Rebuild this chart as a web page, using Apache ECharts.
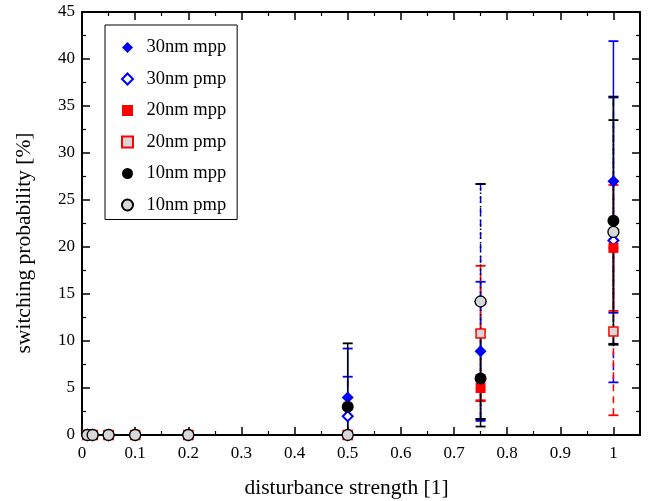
<!DOCTYPE html>
<html><head><meta charset="utf-8">
<script src="https://cdn.jsdelivr.net/npm/echarts@6/dist/echarts.min.js"></script>
<style>html,body{margin:0;padding:0;background:#fff}#c{width:652px;height:501px}</style>
</head><body><div id="c"></div>
<script>
const xValues = [0.01, 0.02, 0.05, 0.1, 0.2, 0.5, 0.75, 1.0];
const seriesNames = ['30nm mpp', '30nm pmp', '20nm mpp', '20nm pmp', '10nm mpp', '10nm pmp'];
const v30mpp = [0, 0, 0, 0, 0, 4.0, 8.9, 27.0];
const v30pmp = [0, 0, 0, 0, 0, 2.0, 14.2, 20.7];
const v20mpp = [0, 0, 0, 0, 0, 0, 5.0, 19.9];
const v20pmp = [0, 0, 0, 0, 0, 0, 10.8, 11.0];
const v10mpp = [0, 0, 0, 0, 0, 3.0, 6.0, 22.8];
const v10pmp = [0, 0, 0, 0, 0, 0, 14.2, 21.6];
const lo30mpp = [0, 0, 0, 0, 0, 0, 1.5, 13.0];
const hi30mpp = [0, 0, 0, 0, 0, 9.2, 16.3, 41.9];
const lo30pmp = [0, 0, 0, 0, 0, 0, 1.7, 5.6];
const hi30pmp = [0, 0, 0, 0, 0, 6.2, 26.7, 35.9];
const lo20mpp = [0, 0, 0, 0, 0, 0, 3.7, 13.2];
const hi20mpp = [0, 0, 0, 0, 0, 0, 6.3, 26.6];
const lo20pmp = [0, 0, 0, 0, 0, 0, 3.6, 2.1];
const hi20pmp = [0, 0, 0, 0, 0, 0, 18.0, 19.9];
const lo10mpp = [0, 0, 0, 0, 0, 0, 0.9, 9.6];
const hi10mpp = [0, 0, 0, 0, 0, 9.75, 11.1, 36.0];
const lo10pmp = [0, 0, 0, 0, 0, 0, 1.7, 9.7];
const hi10pmp = [0, 0, 0, 0, 0, 0, 26.7, 33.5];

const values = [v30mpp, v30pmp, v20mpp, v20pmp, v10mpp, v10pmp];
const lows = [lo30mpp, lo30pmp, lo20mpp, lo20pmp, lo10mpp, lo10pmp];
const highs = [hi30mpp, hi30pmp, hi20mpp, hi20pmp, hi10mpp, hi10pmp];

const FONT = 'Liberation Serif';
const markerStyles = [
  {symbol: 'diamond', size: 12, itemStyle: {color: '#0000ff', borderColor: '#0000ff', borderWidth: 0, opacity: 1}},
  {symbol: 'diamond', size: 10, itemStyle: {color: '#ffffff', borderColor: '#0000ff', borderWidth: 2, opacity: 1}},
  {symbol: 'rect', size: 10, itemStyle: {color: '#ff0000', borderColor: '#ff0000', borderWidth: 0, opacity: 1}},
  {symbol: 'rect', size: 9, itemStyle: {color: '#d8d8d8', borderColor: '#ff0000', borderWidth: 1.5, opacity: 1}},
  {symbol: 'circle', size: 12, itemStyle: {color: '#000000', borderColor: '#000000', borderWidth: 0, opacity: 1}},
  {symbol: 'circle', size: 11, itemStyle: {color: '#d8d8d8', borderColor: '#000000', borderWidth: 1.3, opacity: 1}}
];
const barStyles = [
  {color: '#0000ff', type: 'solid'},
  {color: '#0000ff', type: [7, 5]},
  {color: '#ff0000', type: 'solid'},
  {color: '#ff0000', type: [7, 5]},
  {color: '#000000', type: 'solid'},
  {color: '#000000', type: [1.5, 3]}
];

const series = [];
seriesNames.forEach((name, i) => {
  const ebData = xValues.map((x, k) => [x, lows[i][k], highs[i][k]]);
  series.push({
    type: 'custom',
    name: name + ' err',
    xAxisIndex: 0, yAxisIndex: 0,
    z: 2,
    silent: true,
    data: ebData,
    encode: {x: 0, y: [1, 2]},
    renderItem: function (params, api) {
      const x = api.value(0), l = api.value(1), h = api.value(2);
      if (h - l <= 0) return null;
      const p1 = api.coord([x, l]);
      const p2 = api.coord([x, h]);
      const w = 5;
      const st = {stroke: barStyles[i].color, lineWidth: 1.5, lineDash: barStyles[i].type === 'solid' ? null : barStyles[i].type, fill: null};
      const cst = {stroke: barStyles[i].color, lineWidth: 1.8, fill: null};
      return {type: 'group', children: [
        {type: 'line', shape: {x1: p1[0], y1: p1[1], x2: p2[0], y2: p2[1]}, style: st},
        {type: 'line', shape: {x1: p1[0] - w, y1: p1[1], x2: p1[0] + w, y2: p1[1]}, style: cst},
        {type: 'line', shape: {x1: p2[0] - w, y1: p2[1], x2: p2[0] + w, y2: p2[1]}, style: cst}
      ]};
    }
  });
});
seriesNames.forEach((name, i) => {
  series.push({
    type: 'scatter',
    name: name,
    xAxisIndex: 0, yAxisIndex: 0,
    z: 5 + i,
    symbol: markerStyles[i].symbol,
    symbolSize: markerStyles[i].size,
    itemStyle: markerStyles[i].itemStyle,
    emphasis: {disabled: true},
    data: xValues.map((x, k) => [x, values[i][k]])
  });
});

const axisCommon = {
  axisLine: {show: true, onZero: false, lineStyle: {color: '#000', width: 2}},
  axisTick: {show: true, inside: true, length: 8, lineStyle: {color: '#000', width: 1.5}},
  minorTick: {show: true, splitNumber: 2, length: 4, lineStyle: {color: '#000', width: 1.2}},
  splitLine: {show: false}
};

const chart = echarts.init(document.getElementById('c'), null, {renderer: 'canvas'});
chart.setOption({
  backgroundColor: '#fff',
  animation: false,
  grid: {left: 82, right: 12, top: 12, bottom: 66, containLabel: false, outerBoundsMode: 'none'},
  legend: {
    data: seriesNames,
    orient: 'vertical',
    left: 105, top: 25,
    backgroundColor: '#fff',
    borderColor: '#000', borderWidth: 1,
    padding: [13, 11, 5, 16],
    itemWidth: 11, itemHeight: 11, itemGap: 12.5,
    textStyle: {fontFamily: FONT, fontSize: 18.5, color: '#000', lineHeight: 18.5, padding: [0, 0, 0, 8.5]}
  },
  xAxis: [
    Object.assign({}, axisCommon, {
      type: 'value', min: 0, max: 1.05, interval: 0.1, position: 'bottom',
      name: 'disturbance strength [1]', nameLocation: 'middle', nameGap: 42,
      nameTextStyle: {fontFamily: FONT, fontSize: 21.5, color: '#000', padding: [0, 29, 0, 0]},
      axisLabel: {fontFamily: FONT, fontSize: 17, color: '#000', margin: 10, showMaxLabel: false}
    }),
    Object.assign({}, axisCommon, {
      type: 'value', min: 0, max: 1.05, interval: 0.1, position: 'top',
      axisLabel: {show: false}
    })
  ],
  yAxis: [
    Object.assign({}, axisCommon, {
      type: 'value', min: 0, max: 45, interval: 5, position: 'left',
      name: 'switching probability [%]', nameLocation: 'middle', nameGap: 47,
      nameTextStyle: {fontFamily: FONT, fontSize: 21.5, color: '#000', padding: [0, 39, 0, 0]},
      axisLabel: {fontFamily: FONT, fontSize: 17, color: '#000', margin: 7}
    }),
    Object.assign({}, axisCommon, {
      type: 'value', min: 0, max: 45, interval: 5, position: 'right',
      axisLabel: {show: false}
    })
  ],
  series: series
});
</script></body></html>
